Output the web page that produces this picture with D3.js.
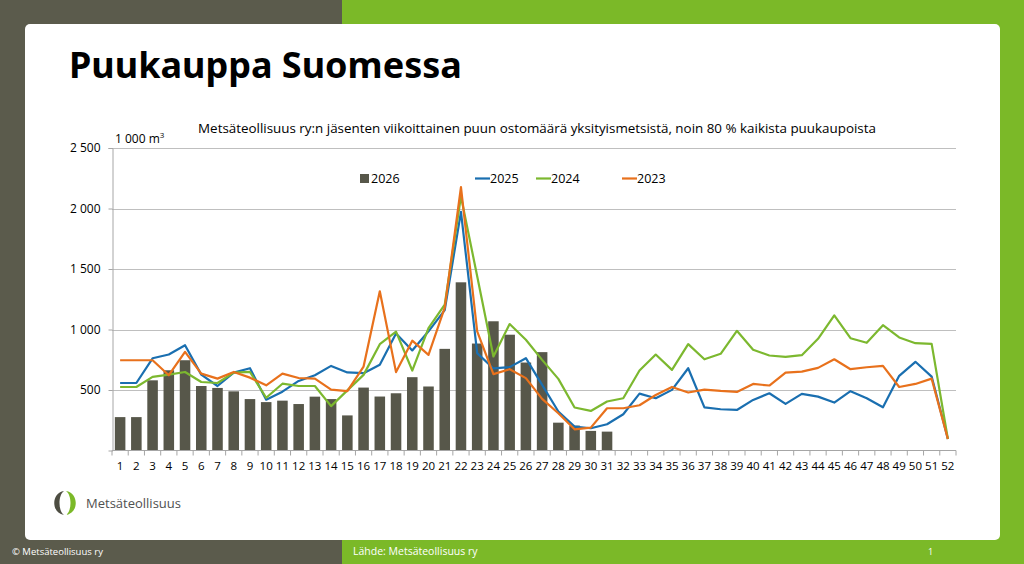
<!DOCTYPE html>
<html>
<head>
<meta charset="utf-8">
<script src="https://cdn.jsdelivr.net/npm/d3@7"></script>
<style>
body { margin: 0; background: #fff; }
svg { display: block; font-family: "Open Sans", "Noto Sans", sans-serif; }
</style>
</head>
<body>
<div id="chart"></div>
<script>
// viikot 1-52
var weeks = d3.range(1, 53);
var tickValues = [500, 1000, 1500, 2000, 2500];
var seriesNames = ["2026", "2025", "2024", "2023"];

// 2026 pylväät (viikot 1-31)
var bars2026 = [276,276,580,663,746,533,517,489,425,400,412,384,445,425,290,520,446,473,606,529,
  840,1390,884,1068,957,727,813,230,206,162,156];

var line2025 = [558,558,762,793,870,627,533,644,680,420,486,575,622,699,645,639,708,967,827,985,
  1160,1972,805,678,689,763,542,322,197,184,217,300,470,432,501,680,357,341,335,418,
  473,385,468,445,396,490,432,357,617,733,611,95];

var line2024 = [525,525,608,627,649,566,558,644,649,436,552,533,533,367,497,625,879,982,661,1012,
  1205,2100,1440,777,1045,915,749,592,355,327,405,432,661,793,666,879,754,799,989,832,
  785,774,788,923,1116,928,890,1036,934,887,881,95];

var line2023 = [746,746,746,622,815,635,594,649,602,539,635,599,594,503,490,694,1316,648,908,790,
  1180,2176,985,631,672,598,427,308,175,189,349,349,374,459,525,479,503,492,484,550,
  537,644,652,683,754,672,688,699,525,550,594,95];

var colors = {bar: "#57574a", b2025: "#1a6fb0", b2024: "#7cb82f", b2023: "#e8711c"};

var W = 1024, H = 564;
var svg = d3.select("#chart").append("svg").attr("width", W).attr("height", H);

// tausta
svg.append("rect").attr("x", 0).attr("y", 0).attr("width", 342).attr("height", H).attr("fill", "#5b5b4c");
svg.append("rect").attr("x", 342).attr("y", 0).attr("width", W - 342).attr("height", H).attr("fill", "#7bb928");
svg.append("rect").attr("x", 25).attr("y", 24).attr("width", 975).attr("height", 516)
  .attr("rx", 5).attr("fill", "#fff");

svg.append("text").attr("x", 69).attr("y", 78).text("Puukauppa Suomessa")
  .style("font-size", "36px").style("font-weight", "bold").style("font-family", "'Noto Sans', sans-serif")
  .attr("fill", "#000");

svg.append("text").attr("x", 537).attr("y", 133).attr("text-anchor", "middle")
  .text("Metsäteollisuus ry:n jäsenten viikoittainen puun ostomäärä yksityismetsistä, noin 80 % kaikista puukaupoista")
  .style("font-size", "13.4px").attr("fill", "#000");

var unit = svg.append("text").attr("x", 115).attr("y", 143).style("font-size", "12px").attr("fill", "#000");
unit.append("tspan").text("1 000 m");
unit.append("tspan").text("3").attr("dy", -5).style("font-size", "8px");

// asteikot
var x = d3.scaleBand().domain(weeks).range([112, 956]).paddingInner(0.35).paddingOuter(0.175);
var xc = function(w) { return x(w) + x.bandwidth() / 2; };
var y = d3.scaleLinear().domain([0, 2500]).range([450.5, 148]);

var fmt = function(v) { return d3.format(",")(v).replace(",", " "); };

var g = svg.append("g");
g.selectAll(".grid").data(tickValues).enter().append("line")
  .attr("x1", 112).attr("x2", 956)
  .attr("y1", function(d) { return Math.round(y(d)) + 0.5; })
  .attr("y2", function(d) { return Math.round(y(d)) + 0.5; })
  .attr("stroke", "#bfbfbf").attr("stroke-width", 1);

var yAxis = g.append("g").attr("transform", "translate(112.5,0)")
  .call(d3.axisLeft(y).tickValues(tickValues).tickFormat(fmt).tickSize(4).tickPadding(8));
yAxis.select(".domain").attr("stroke", "#a6a6a6");
yAxis.selectAll(".tick line").attr("stroke", "#a6a6a6");
yAxis.selectAll("text").style("font-size", "12px").style("font-family", "'Open Sans', sans-serif").attr("fill", "#000");

// pylväät
g.selectAll(".bar").data(bars2026).enter().append("rect")
  .attr("x", function(d, i) { return x(weeks[i]); })
  .attr("y", function(d) { return y(d); })
  .attr("width", x.bandwidth())
  .attr("height", function(d) { return y(0) - y(d); })
  .attr("fill", colors.bar);

// x-akseli
var step = x.step();
g.append("line").attr("x1", 112).attr("x2", 956).attr("y1", 450.5).attr("y2", 450.5).attr("stroke", "#a6a6a6");
g.selectAll(".xt").data(d3.range(0, 53)).enter().append("line")
  .attr("x1", function(i) { return 112 + i * step; }).attr("x2", function(i) { return 112 + i * step; })
  .attr("y1", 450.5).attr("y2", 455.5).attr("stroke", "#a6a6a6");
g.selectAll(".xl").data(weeks).enter().append("text")
  .attr("x", function(d) { return xc(d); }).attr("y", 470)
  .attr("text-anchor", "middle").text(function(d) { return d; })
  .style("font-size", "11.5px").attr("fill", "#000");

// viivat
var line = d3.line().x(function(d, i) { return xc(weeks[i]); }).y(function(d) { return y(d); });
[[line2025, colors.b2025], [line2024, colors.b2024], [line2023, colors.b2023]].forEach(function(s) {
  g.append("path").datum(s[0]).attr("d", line).attr("fill", "none")
    .attr("stroke", s[1]).attr("stroke-width", 2.2).attr("stroke-linejoin", "round");
});

// selite
var leg = svg.append("g").style("font-size", "12.5px");
leg.append("rect").attr("x", 360).attr("y", 174).attr("width", 9).attr("height", 9).attr("fill", colors.bar);
leg.append("text").attr("x", 371).attr("y", 183).text(seriesNames[0]);
var legLines = [[475, colors.b2025, seriesNames[1]], [536, colors.b2024, seriesNames[2]], [622, colors.b2023, seriesNames[3]]];
legLines.forEach(function(l) {
  leg.append("line").attr("x1", l[0]).attr("x2", l[0] + 15).attr("y1", 178.5).attr("y2", 178.5)
    .attr("stroke", l[1]).attr("stroke-width", 2.2);
  leg.append("text").attr("x", l[0] + 15).attr("y", 183).text(l[2]);
});

// logo
var logo = svg.append("g").attr("transform", "translate(65,503)");
logo.append("path").attr("d", "M-1,-12 C-14,-10 -14,10 -1,12 C-7,8 -7,-8 -1,-12 Z").attr("fill", "#4d4d42");
logo.append("path").attr("d", "M1,-12 C14,-10 14,10 1,12 C7,8 7,-8 1,-12 Z").attr("fill", "#7bb928");
svg.append("text").attr("x", 86).attr("y", 508).text("Metsäteollisuus")
  .style("font-size", "13px").attr("fill", "#505050");

// alatunniste
svg.append("text").attr("x", 12).attr("y", 555).text("© Metsäteollisuus ry")
  .style("font-size", "9.5px").attr("fill", "#fff");
svg.append("text").attr("x", 353).attr("y", 555).text("Lähde: Metsäteollisuus ry")
  .style("font-size", "10.5px").attr("fill", "#fff");
svg.append("text").attr("x", 928).attr("y", 555).text("1")
  .style("font-size", "9px").attr("fill", "#fff");
</script>
</body>
</html>
